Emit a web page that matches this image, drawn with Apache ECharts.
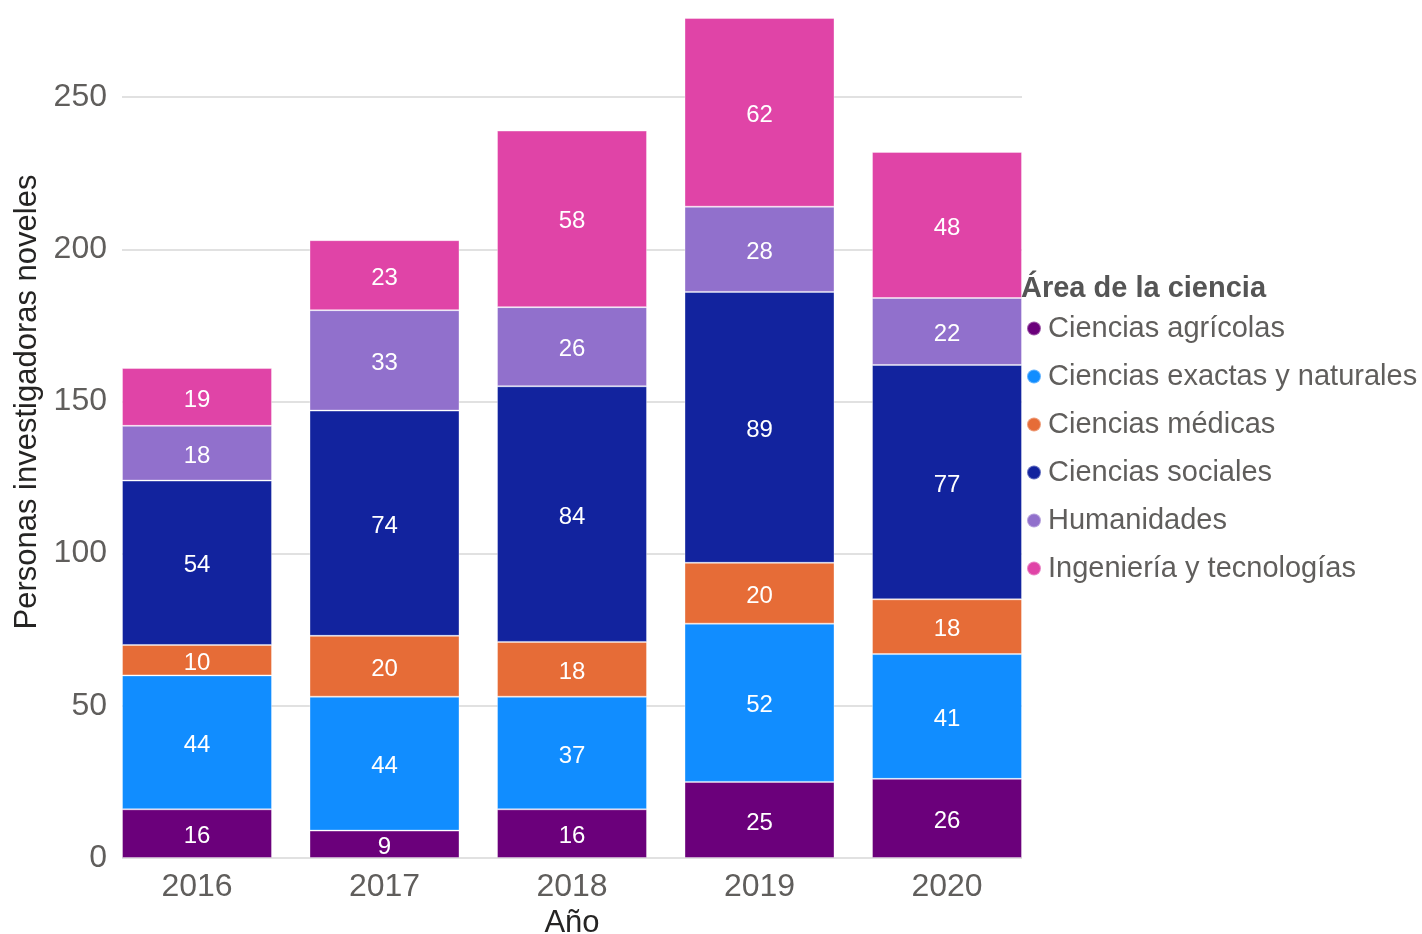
<!DOCTYPE html>
<html>
<head>
<meta charset="utf-8">
<script src="https://cdn.jsdelivr.net/npm/echarts@6/dist/echarts.min.js"></script>
<style>
  html, body { margin: 0; padding: 0; background: #fff; }
  #chart { width: 1422px; height: 934px; }
</style>
</head>
<body>
<div id="chart"></div>
<script>
const years = ["2016", "2017", "2018", "2019", "2020"];
const agricolas = [16, 9, 16, 25, 26];
const exactas = [44, 44, 37, 52, 41];
const medicas = [10, 20, 18, 20, 18];
const sociales = [54, 74, 84, 89, 77];
const humanidades = [18, 33, 26, 28, 22];
const ingenieria = [19, 23, 58, 62, 48];
const yTicks = [0, 50, 100, 150, 200, 250];

const seriesDefs = [
  ["Ciencias agrícolas", agricolas, "#6b007b"],
  ["Ciencias exactas y naturales", exactas, "#118dff"],
  ["Ciencias médicas", medicas, "#e66c37"],
  ["Ciencias sociales", sociales, "#12239e"],
  ["Humanidades", humanidades, "#9170cc"],
  ["Ingeniería y tecnologías", ingenieria, "#e044a7"],
];

(() => {
  const font = "Liberation Sans, Arial, sans-serif";
  const yMax = 276;
  let myChart = echarts.init(document.querySelector("#chart"));
  let option = {
    animation: false,
    title: {
      text: "Área de la ciencia",
      left: 1021,
      top: 274,
      padding: 0,
      textStyle: { color: "#555", fontSize: 29, fontWeight: "bold", fontFamily: font },
    },
    legend: {
      orient: "vertical",
      left: 1026,
      top: 314,
      padding: 0,
      icon: "circle",
      itemWidth: 14,
      itemHeight: 14,
      itemGap: 19,
      textStyle: { color: "#605e5c", fontSize: 29, fontFamily: font, padding: [0, 0, 0, 2] },
      data: seriesDefs.map((d) => d[0]),
    },
    grid: [
      { left: 122, right: 400, top: 18, bottom: 76, outerBoundsMode: "none" },
      { left: 103.25, right: 381.25, top: 18, bottom: 76, outerBoundsMode: "none" },
    ],
    xAxis: [
      { gridIndex: 0, type: "value", show: false, min: 0, max: 1 },
      {
        gridIndex: 1,
        type: "category",
        data: years,
        name: "Año",
        nameLocation: "middle",
        nameGap: 50,
        nameTextStyle: { color: "#252423", fontSize: 31, fontFamily: font },
        axisLine: { show: false },
        axisTick: { show: false },
        axisLabel: { color: "#605e5c", fontSize: 32, fontFamily: font, margin: 13 },
      },
    ],
    yAxis: [
      {
        gridIndex: 0,
        type: "value",
        min: 0,
        max: yMax,
        interval: 50,
        name: "Personas investigadoras noveles",
        nameLocation: "middle",
        nameGap: 79,
        nameTextStyle: { color: "#252423", fontSize: 31, fontFamily: font, padding: [0, 0, 0, 72] },
        axisLine: { show: false },
        axisTick: { show: false },
        axisLabel: {
          color: "#605e5c",
          fontSize: 32,
          fontFamily: font,
          margin: 15,
          showMaxLabel: false,
          formatter: (v) => (yTicks.includes(v) ? String(v) : ""),
        },
        splitLine: { showMaxLine: false, lineStyle: { color: "#e1e1e1", width: 2 } },
      },
      { gridIndex: 1, type: "value", min: 0, max: yMax, show: false, splitLine: { show: false } },
    ],
    series: seriesDefs.map(([name, data, color]) => ({
      name: name,
      type: "bar",
      stack: "total",
      xAxisIndex: 1,
      yAxisIndex: 1,
      barWidth: "80%",
      data: data,
      itemStyle: { color: color, borderColor: "rgba(255,255,255,0.35)", borderWidth: 1 },
      label: {
        show: true,
        position: "inside",
        offset: [0, 3],
        color: "#fff",
        fontSize: 24,
        fontFamily: font,
      },
    })),
  };
  myChart.setOption(option);
  window.addEventListener("resize", () => {
    myChart.resize();
  });
})();
</script>
</body>
</html>
